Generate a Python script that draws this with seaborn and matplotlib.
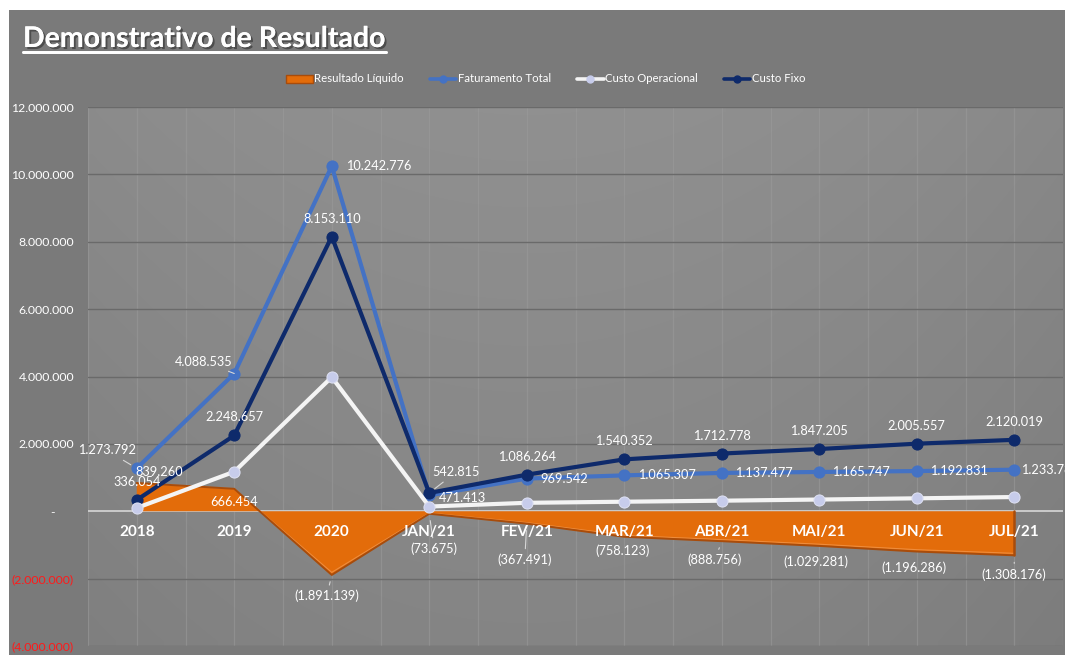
import numpy as np
import pandas as pd
import matplotlib
matplotlib.use("Agg")
import matplotlib.pyplot as plt
import seaborn as sns
from matplotlib import patheffects as pe
from matplotlib.lines import Line2D
from matplotlib.patches import Patch, Rectangle

# ---------------- data ----------------
categories = ["2018", "2019", "2020", "JAN/21", "FEV/21", "MAR/21",
              "ABR/21", "MAI/21", "JUN/21", "JUL/21"]
resultado_liquido = [839260, 666454, -1891139, -73675, -367491, -758123,
                     -888756, -1029281, -1196286, -1308176]
faturamento_total = [1273792, 4088535, 10242776, 471413, 969542, 1065307,
                     1137477, 1165747, 1192831, 1233780]
custo_operacional = [98478, 1173424, 3980805, 140000, 250769, 283078,
                     313455, 347823, 383560, 421937]
custo_fixo = [336054, 2248657, 8153110, 542815, 1086264, 1540352,
              1712778, 1847205, 2005557, 2120019]
y_ticks = [-4000000, -2000000, 0, 2000000, 4000000, 6000000, 8000000,
           10000000, 12000000]

# ---------------- label placement (pixel offsets, style only) ----------------
off_fat = [(-30, 18), (-31, 12), (14, 0), (10, -3), (14, 0), (14, 0),
           (13, 0), (13, 0), (13, 0), (7, 0)]
ha_fat = ["center", "center", "left", "left", "left", "left", "left",
          "left", "left", "left"]
lead_fat = [True, True, False, False, False, False, False, False, False, False]
off_fix = [(0, 18), (0, 18), (0, 18), (27, 21), (0, 18), (0, 18), (0, 18),
           (0, 18), (0, 18), (0, 18)]
lead_fix = [False, False, False, True, False, False, False, False, False, False]
off_res = [(22, 11), (0, -13), (-5, -21), (5, -35), (-2, -36), (-2, -14),
           (-7, -19), (-3, -16), (-3, -16), (0, -19)]
lead_res = [False, False, True, True, True, False, True, False, False, True]

W, H = 1065, 655
sns.set_theme(style="white")
plt.rcParams["font.family"] = ["Lato", "DejaVu Sans"]

C_FAT = "#4472C4"
C_FIX = "#0E2A6B"
C_OP_LINE = "#F4F4F4"
C_OP_MARK = "#C7CCEB"
C_RES = "#E36C0A"
C_RES_EDGE = "#A84C0B"

fig = plt.figure(figsize=(W / 100, H / 100), dpi=100, facecolor="white")

# background axes in pixel coordinates
bg = fig.add_axes([0, 0, 1, 1], zorder=-5)
bg.set_xlim(0, W)
bg.set_ylim(H, 0)
bg.axis("off")
bg.add_patch(Rectangle((9, 10), W, H, facecolor="#7A7A7A", edgecolor="none"))
ny, nx = 60, 120
yy, xx = np.mgrid[0:1:ny * 1j, 0:1:nx * 1j]
val = 0.565 - 0.045 * yy - 0.1 * (xx - 0.45) ** 2
img = np.dstack([val, val, val])
bg.imshow(img, extent=[88, 1063, 646, 107], aspect="auto", zorder=1,
          interpolation="bilinear")

ax = fig.add_axes([88 / W, 1 - 646 / H, (1063 - 88) / W, (646 - 107) / H])
ax.patch.set_alpha(0)

x = np.arange(len(categories))

# grid
for gx in np.arange(-0.5, len(categories), 0.5):
    ax.axvline(gx, color="#9B9B9B", lw=0.9, alpha=0.55, zorder=0.5)
for gy in y_ticks:
    if gy != 0:
        ax.axhline(gy, color="#6A6A6A", lw=1.0, zorder=0.6)
ax.axhline(0, color="#D0D0D0", lw=1.3, zorder=1.5)

# area: Resultado Liquido
ax.fill_between(x, 0, resultado_liquido, color=C_RES, edgecolor="none",
                zorder=2)
ax.plot(x, resultado_liquido, color=C_RES_EDGE, lw=1.4, zorder=2.1)
ax.plot(x, np.array(resultado_liquido) * 0.97 + 20000, color="#F39A52",
        lw=0.8, alpha=0.7, zorder=2.05)
ax.plot([x[-1], x[-1]], [0, resultado_liquido[-1]], color=C_RES_EDGE,
        lw=1.8, zorder=2.1)

# lines
sns.lineplot(x=x, y=faturamento_total, ax=ax, color=C_FAT, lw=3.0,
             marker="o", markersize=8, markeredgecolor=C_FAT, zorder=4)
sns.lineplot(x=x, y=custo_fixo, ax=ax, color=C_FIX, lw=3.0, marker="o",
             markersize=8, markeredgecolor=C_FIX, zorder=5)
sns.lineplot(x=x, y=custo_operacional, ax=ax, color=C_OP_LINE, lw=3.0,
             marker="o", markersize=8, markerfacecolor=C_OP_MARK,
             markeredgecolor="#DDE0F2", zorder=6)

ax.set_xlim(-0.5, len(categories) - 0.5)
ax.set_ylim(-4000000, 12000000)


def fmt(v):
    if v == 0:
        return "-      "
    s = f"{abs(int(round(v))):,}".replace(",", ".")
    return f"({s})" if v < 0 else s


ax.set_yticks(y_ticks)
ax.set_yticklabels([fmt(v) for v in y_ticks])
for lab, v in zip(ax.get_yticklabels(), y_ticks):
    lab.set_color("#FF1A1A" if v < 0 else "white")
ax.tick_params(axis="y", length=0, pad=10, labelsize=8.8)

# category labels drawn on top of the area, at the zero line
ax.set_xticks([])
for i, c in enumerate(categories):
    ax.annotate(c, xy=(x[i], 0), xytext=(0, -21), textcoords="offset pixels",
                ha="center", va="center", color="white", fontsize=11,
                fontweight="bold", zorder=9, annotation_clip=False)
for s in ["left", "right", "top", "bottom"]:
    ax.spines[s].set_visible(False)
ax.set_xlabel("")
ax.set_ylabel("")


def add_labels(vals, offs, leads, has=None):
    for i, v in enumerate(vals):
        ha = has[i] if has else "center"
        kw = {}
        if leads[i]:
            kw["arrowprops"] = dict(arrowstyle="-", color="#D8D8D8", lw=0.8,
                                    shrinkA=1, shrinkB=5)
        ax.annotate(fmt(v), xy=(x[i], v), xytext=offs[i],
                    textcoords="offset pixels", ha=ha, va="center",
                    color="white", fontsize=9.2, zorder=8,
                    annotation_clip=False, **kw)


add_labels(faturamento_total, off_fat, lead_fat, ha_fat)
add_labels(custo_fixo, off_fix, lead_fix)
add_labels(resultado_liquido, off_res, lead_res)

# legend
handles = [
    Patch(facecolor=C_RES, edgecolor=C_RES_EDGE, lw=1),
    Line2D([], [], color=C_FAT, lw=2.6, marker="o", ms=5),
    Line2D([], [], color=C_OP_LINE, lw=2.6, marker="o", ms=5,
           markerfacecolor=C_OP_MARK, markeredgecolor=C_OP_MARK),
    Line2D([], [], color=C_FIX, lw=2.6, marker="o", ms=5),
]
labels = ["Resultado Líquido", "Faturamento Total", "Custo Operacional",
          "Custo Fixo"]
fig.legend(handles, labels, loc="center", bbox_to_anchor=(546 / W, 1 - 79 / H),
           ncol=4, frameon=False, fontsize=8.2, labelcolor="white",
           handlelength=2.3, handleheight=0.7, handletextpad=0.15,
           columnspacing=2.3)

# title with underline and shadow
t = fig.text(23 / W, 1 - 47 / H, "Demonstrativo de Resultado", fontsize=20.5,
             fontweight="bold", color="white", ha="left", va="baseline",
             path_effects=[pe.withSimplePatchShadow(offset=(1.5, -1.5),
                                                   shadow_rgbFace="#3A3A3A",
                                                   alpha=0.7),
                           pe.Normal()])
fig.canvas.draw()
bb = t.get_window_extent()
uy = 1 - 52 / H
fig.add_artist(Line2D([bb.x0 / W, bb.x1 / W], [uy, uy], color="white", lw=2.0,
                      transform=fig.transFigure,
                      path_effects=[pe.withSimplePatchShadow(
                          offset=(1.5, -1.5), shadow_rgbFace="#3A3A3A",
                          alpha=0.7), pe.Normal()]))

fig.savefig("out.png", dpi=100, facecolor="white")
